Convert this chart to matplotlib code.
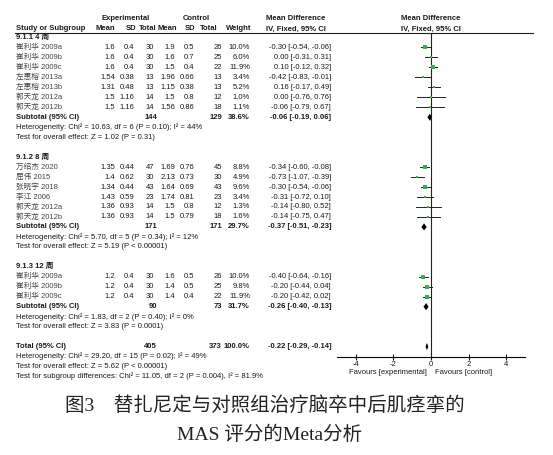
import matplotlib
matplotlib.use("Agg")
import matplotlib.pyplot as plt

plt.rcParams["axes.unicode_minus"] = False

SANS = ["Liberation Sans", "Noto Sans CJK SC"]
SERIF = ["Liberation Serif", "Noto Sans CJK SC"]

# ---- data ----
group_titles = ["9.1.1 4 周", "9.1.2 8 周", "9.1.3 12 周"]

g1_study = ["崔利华 2009a", "崔利华 2009b", "崔利华 2009c", "左惠榕 2013a",
            "左惠榕 2013b", "郭天龙 2012a", "郭天龙 2012b"]
g1_e_mean = [1.6, 1.6, 1.6, 1.54, 1.31, 1.5, 1.5]
g1_e_sd = [0.4, 0.4, 0.4, 0.38, 0.48, 1.16, 1.16]
g1_e_n = [30, 30, 30, 13, 13, 14, 14]
g1_c_mean = [1.9, 1.6, 1.5, 1.96, 1.15, 1.5, 1.56]
g1_c_sd = [0.5, 0.7, 0.4, 0.66, 0.38, 0.8, 0.86]
g1_c_n = [26, 25, 22, 13, 13, 12, 18]
g1_weight = [10.0, 6.0, 11.9, 3.4, 5.2, 1.0, 1.1]
g1_md = [-0.30, 0.00, 0.10, -0.42, 0.16, 0.00, -0.06]
g1_lo = [-0.54, -0.31, -0.12, -0.83, -0.17, -0.76, -0.79]
g1_hi = [-0.06, 0.31, 0.32, -0.01, 0.49, 0.76, 0.67]

g2_study = ["万绍杰 2020", "屈伟 2015", "张晓宇 2018", "李江 2006",
            "郭天龙 2012a", "郭天龙 2012b"]
g2_e_mean = [1.35, 1.4, 1.34, 1.43, 1.36, 1.36]
g2_e_sd = [0.44, 0.62, 0.44, 0.59, 0.93, 0.93]
g2_e_n = [47, 30, 43, 23, 14, 14]
g2_c_mean = [1.69, 2.13, 1.64, 1.74, 1.5, 1.5]
g2_c_sd = [0.76, 0.73, 0.69, 0.81, 0.8, 0.79]
g2_c_n = [45, 30, 43, 23, 12, 18]
g2_weight = [8.8, 4.9, 9.6, 3.4, 1.3, 1.6]
g2_md = [-0.34, -0.73, -0.30, -0.31, -0.14, -0.14]
g2_lo = [-0.60, -1.07, -0.54, -0.72, -0.80, -0.75]
g2_hi = [-0.08, -0.39, -0.06, 0.10, 0.52, 0.47]

g3_study = ["崔利华 2009a", "崔利华 2009b", "崔利华 2009c"]
g3_e_mean = [1.2, 1.2, 1.2]
g3_e_sd = [0.4, 0.4, 0.4]
g3_e_n = [30, 30, 30]
g3_c_mean = [1.6, 1.4, 1.4]
g3_c_sd = [0.5, 0.5, 0.4]
g3_c_n = [26, 25, 22]
g3_weight = [10.0, 9.8, 11.9]
g3_md = [-0.40, -0.20, -0.20]
g3_lo = [-0.64, -0.44, -0.42]
g3_hi = [-0.16, 0.04, 0.02]

sub_e_n = [144, 171, 90]
sub_c_n = [129, 171, 73]
sub_weight = [38.6, 29.7, 31.7]
sub_md = [-0.06, -0.37, -0.26]
sub_lo = [-0.19, -0.51, -0.40]
sub_hi = [0.06, -0.23, -0.13]
sub_het = ["Chi² = 10.63, df = 6 (P = 0.10); I² = 44%",
           "Chi² = 5.70, df = 5 (P = 0.34); I² = 12%",
           "Chi² = 1.83, df = 2 (P = 0.40); I² = 0%"]
sub_z = ["Z = 1.02 (P = 0.31)", "Z = 5.19 (P < 0.00001)", "Z = 3.83 (P = 0.0001)"]

total_e_n, total_c_n, total_weight = 405, 373, 100.0
total_md, total_lo, total_hi = -0.22, -0.29, -0.14
total_het = "Chi² = 29.20, df = 15 (P = 0.02); I² = 49%"
total_z = "Z = 5.62 (P < 0.00001)"
subgroup_diff = "Chi² = 11.05, df = 2 (P = 0.004), I² = 81.9%"

x_ticks = [-4, -2, 0, 2, 4]

caption1 = "图3　替扎尼定与对照组治疗脑卒中后肌痉挛的"
caption2 = "MAS 评分的Meta分析"

groups = [
    (g1_study, g1_e_mean, g1_e_sd, g1_e_n, g1_c_mean, g1_c_sd, g1_c_n, g1_weight, g1_md, g1_lo, g1_hi),
    (g2_study, g2_e_mean, g2_e_sd, g2_e_n, g2_c_mean, g2_c_sd, g2_c_n, g2_weight, g2_md, g2_lo, g2_hi),
    (g3_study, g3_e_mean, g3_e_sd, g3_e_n, g3_c_mean, g3_c_sd, g3_c_n, g3_weight, g3_md, g3_lo, g3_hi),
]

# ---- layout (pixels) ----
W, H = 553, 455
Y0, STEP = 37.5, 9.97
FS = 5.5
TXT = "#1a1a1a"
GREEN = "#2fb54a"

fig = plt.figure(figsize=(W / 100, H / 100), dpi=100)
ax = fig.add_axes([0, 0, 1, 1])
ax.set_xlim(0, W)
ax.set_ylim(H, 0)
ax.axis("off")

# forest panel: own data scale (-5..5), rows share the text row grid
FL, FR, FT, FB = 337, 525, 32.5, 357
fa = fig.add_axes([FL / W, 1 - FB / H, (FR - FL) / W, (FB - FT) / H])
fa.set_xlim(-5, 5)
fa.set_ylim((FB - Y0) / STEP, (FT - Y0) / STEP)
for s in ["top", "left", "right"]:
    fa.spines[s].set_visible(False)
fa.spines["bottom"].set_linewidth(0.8)
fa.set_yticks([])
fa.set_xticks(x_ticks)
fa.tick_params(axis="x", direction="inout", length=5, width=0.8, pad=0.5,
               labelsize=FS, colors=TXT)
for lab in fa.get_xticklabels():
    lab.set_fontfamily(SANS)
fa.axvline(0, color="#222222", lw=0.8)
fa.patch.set_alpha(0)

COLS = {"e_mean": 115, "e_sd": 134, "e_n": 154, "c_mean": 175, "c_sd": 194,
        "c_n": 222, "w": 250, "md": 331}


def ypix(r):
    return Y0 + STEP * r


def t(x, y, s, ha="left", bold=False, color=TXT, family=SANS, size=FS):
    ax.text(x, y, s, ha=ha, va="center", fontsize=size, color=color,
            fontweight="bold" if bold else "normal", family=family)


def diamond(r, md, lo, hi):
    h = 0.36
    fa.fill([lo, md, hi, md], [r, r - h, r, r + h], color="black", lw=0)


# headers
t(126, 18, "Experimental", ha="center", bold=True)
t(196, 18, "Control", ha="center", bold=True)
t(296, 18, "Mean Difference", ha="center", bold=True)
t(431, 18, "Mean Difference", ha="center", bold=True)
t(16, 29, "Study or Subgroup", bold=True)
for x, s in [(115, "Mean"), (136, "SD"), (157, "Total"), (177, "Mean"),
             (195, "SD"), (218, "Total"), (251, "Weight")]:
    t(x, 29, s, ha="right", bold=True)
t(296, 29, "IV, Fixed, 95% CI", ha="center", bold=True)
t(431, 29, "IV, Fixed, 95% CI", ha="center", bold=True)
ax.plot([15, 533], [32.5, 32.5], color="#222222", lw=0.8)

r = 0
for gi, g in enumerate(groups):
    study, em, esd, en, cm, csd, cn, w, md, lo, hi = g
    t(16, ypix(r), group_titles[gi], bold=True)
    r += 1
    for i in range(len(study)):
        y = ypix(r)
        t(16, y, study[i], color="#444444")
        t(COLS["e_mean"], y, f"{em[i]:g}", ha="right")
        t(COLS["e_sd"], y, f"{esd[i]:g}", ha="right")
        t(COLS["e_n"], y, f"{en[i]}", ha="right")
        t(COLS["c_mean"], y, f"{cm[i]:g}", ha="right")
        t(COLS["c_sd"], y, f"{csd[i]:g}", ha="right")
        t(COLS["c_n"], y, f"{cn[i]}", ha="right")
        t(COLS["w"], y, f"{w[i]:.1f}%", ha="right")
        t(COLS["md"], y, f"{md[i]:.2f} [{lo[i]:.2f}, {hi[i]:.2f}]", ha="right")
        fa.plot([lo[i], hi[i]], [r, r], color="#222222", lw=0.7)
        fa.plot(md[i], r, marker="s", ms=1.0 + 0.45 * w[i] ** 0.5,
                color=GREEN, mew=0, ls="none")
        r += 1
    y = ypix(r)
    t(16, y, "Subtotal (95% CI)", bold=True)
    t(COLS["e_n"] + 3, y, f"{sub_e_n[gi]}", ha="right", bold=True)
    t(COLS["c_n"], y, f"{sub_c_n[gi]}", ha="right", bold=True)
    t(COLS["w"], y, f"{sub_weight[gi]:.1f}%", ha="right", bold=True)
    t(COLS["md"], y, f"{sub_md[gi]:.2f} [{sub_lo[gi]:.2f}, {sub_hi[gi]:.2f}]",
      ha="right", bold=True)
    diamond(r, sub_md[gi], sub_lo[gi], sub_hi[gi])
    r += 1
    t(16, ypix(r), "Heterogeneity: " + sub_het[gi])
    r += 1
    t(16, ypix(r), "Test for overall effect: " + sub_z[gi])
    r += 2

y = ypix(r)
t(16, y, "Total (95% CI)", bold=True)
t(COLS["e_n"] + 3, y, f"{total_e_n}", ha="right", bold=True)
t(COLS["c_n"], y, f"{total_c_n}", ha="right", bold=True)
t(COLS["w"], y, f"{total_weight:.1f}%", ha="right", bold=True)
t(COLS["md"], y, f"{total_md:.2f} [{total_lo:.2f}, {total_hi:.2f}]", ha="right", bold=True)
diamond(r, total_md, total_lo, total_hi)
t(16, ypix(r + 1), "Heterogeneity: " + total_het)
t(16, ypix(r + 2), "Test for overall effect: " + total_z)
t(16, ypix(r + 3), "Test for subgroup differences: " + subgroup_diff)

t(427, 373, "Favours [experimental]", ha="right")
t(435, 373, "Favours [control]", ha="left")

t(265, 405, caption1, ha="center", family=SERIF, size=14, color="#222222")
t(270, 435, caption2, ha="center", family=SERIF, size=14, color="#222222")

fig.savefig("out.png", dpi=100)
